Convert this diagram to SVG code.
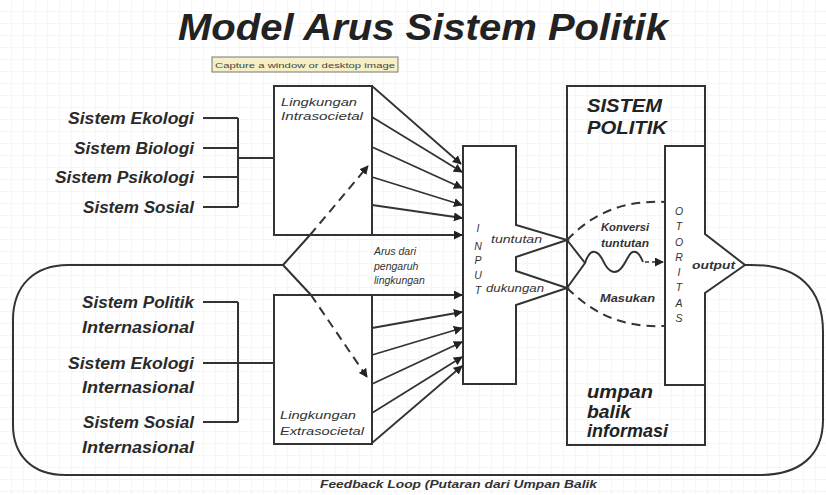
<svg xmlns="http://www.w3.org/2000/svg" width="826" height="495" viewBox="0 0 826 495">
<defs>
<pattern id="grid" width="12" height="12" patternUnits="userSpaceOnUse">
<path d="M12 0V12M0 12H12" fill="none" stroke="#dcdcdc" stroke-width="0.8" stroke-dasharray="2 1"/>
</pattern>
<marker id="ah" viewBox="0 0 10 10" refX="9" refY="5" markerWidth="9" markerHeight="9" markerUnits="userSpaceOnUse" orient="auto">
<path d="M0 0L10 5L0 10z" fill="#222"/>
</marker>
<style>
.ln{fill:none;stroke:#333;stroke-width:2}
.ar{fill:none;stroke:#333;stroke-width:1.8;marker-end:url(#ah)}
.dsh{fill:none;stroke:#333;stroke-width:2;stroke-dasharray:9 6}
.box{fill:#fff;stroke:#333;stroke-width:2}
.big{font-family:"Liberation Sans",Arial,sans-serif;font-weight:bold;font-style:italic;fill:#222}
.lab{font-family:"Liberation Sans",Arial,sans-serif;font-weight:bold;font-style:italic;font-size:16px;fill:#2a2a2a;text-anchor:end}
.sm{font-family:"Liberation Sans",Arial,sans-serif;font-style:italic;font-size:10.5px;fill:#333}
.let{font-family:"Liberation Sans",Arial,sans-serif;font-style:italic;font-size:10.5px;fill:#333;text-anchor:middle}
</style>
</defs>
<rect width="826" height="495" fill="#fff"/>
<rect width="826" height="495" fill="url(#grid)"/>

<g id="title"><text class="big" x="423" y="40" font-size="36" text-anchor="middle" textLength="490" lengthAdjust="spacingAndGlyphs">Model Arus Sistem Politik</text></g>

<g id="tooltip">
<rect x="212" y="57" width="186" height="15" fill="#f6efc4" stroke="#777" stroke-width="1"/>
<text x="215" y="68" font-family="Liberation Sans, Arial, sans-serif" font-size="8" fill="#444" textLength="180" lengthAdjust="spacingAndGlyphs">Capture a window or desktop image</text>
</g>

<g id="labels-left">
<text class="lab" x="194" y="124" textLength="126" lengthAdjust="spacingAndGlyphs">Sistem Ekologi</text>
<text class="lab" x="194" y="154" textLength="120" lengthAdjust="spacingAndGlyphs">Sistem Biologi</text>
<text class="lab" x="194" y="183" textLength="139" lengthAdjust="spacingAndGlyphs">Sistem Psikologi</text>
<text class="lab" x="194" y="213" textLength="111" lengthAdjust="spacingAndGlyphs">Sistem Sosial</text>
<text class="lab" x="194" y="308" textLength="112" lengthAdjust="spacingAndGlyphs">Sistem Politik</text>
<text class="lab" x="194" y="333" textLength="112" lengthAdjust="spacingAndGlyphs">Internasional</text>
<text class="lab" x="194" y="369" textLength="126" lengthAdjust="spacingAndGlyphs">Sistem Ekologi</text>
<text class="lab" x="194" y="393" textLength="112" lengthAdjust="spacingAndGlyphs">Internasional</text>
<text class="lab" x="194" y="428" textLength="111" lengthAdjust="spacingAndGlyphs">Sistem Sosial</text>
<text class="lab" x="194" y="453" textLength="112" lengthAdjust="spacingAndGlyphs">Internasional</text>
</g>

<g id="intrasocietal">
<rect class="box" x="274" y="86" width="98" height="149"/>
<text class="sm" x="281" y="106" textLength="76" lengthAdjust="spacingAndGlyphs">Lingkungan</text>
<text class="sm" x="281" y="120" textLength="82" lengthAdjust="spacingAndGlyphs">Intrasocietal</text>
</g>

<g id="extrasocietal">
<rect class="box" x="274" y="295" width="98" height="149"/>
<text class="sm" x="280" y="419" textLength="76" lengthAdjust="spacingAndGlyphs">Lingkungan</text>
<text class="sm" x="280" y="435" textLength="84" lengthAdjust="spacingAndGlyphs">Extrasocietal</text>
</g>

<g id="arus">
<text class="sm" x="374" y="255">Arus dari</text>
<text class="sm" x="374" y="270">pengaruh</text>
<text class="sm" x="374" y="284">lingkungan</text>
</g>

<g id="input">
<path class="box" d="M463 146H516V225L567 240L516 257V271L567 288L516 305V384H463Z"/>
<text class="let" x="478" y="232">I</text>
<text class="let" x="478" y="250">N</text>
<text class="let" x="478" y="264">P</text>
<text class="let" x="478" y="279">U</text>
<text class="let" x="478" y="294">T</text>
<text class="sm" x="491" y="243" font-size="9.5" textLength="51" lengthAdjust="spacingAndGlyphs">tuntutan</text>
<text class="sm" x="486" y="292" font-size="9.5" textLength="58" lengthAdjust="spacingAndGlyphs">dukungan</text>
</g>

<g id="sistem-politik">
<path class="ln" d="M705 234V86H567V445H705V293"/>
<text class="big" x="587" y="112" font-size="19" textLength="75" lengthAdjust="spacingAndGlyphs">SISTEM</text>
<text class="big" x="587" y="134" font-size="19" textLength="80" lengthAdjust="spacingAndGlyphs">POLITIK</text>
<text class="big" x="587" y="398" font-size="19" textLength="66" lengthAdjust="spacingAndGlyphs">umpan</text>
<text class="big" x="587" y="418" font-size="19" textLength="44" lengthAdjust="spacingAndGlyphs">balik</text>
<text class="big" x="587" y="437" font-size="19" textLength="81" lengthAdjust="spacingAndGlyphs">informasi</text>
<text class="sm" x="601" y="231" font-weight="bold" font-size="11" textLength="48" lengthAdjust="spacingAndGlyphs">Konversi</text>
<text class="sm" x="601" y="247" font-weight="bold" font-size="11" textLength="48" lengthAdjust="spacingAndGlyphs">tuntutan</text>
<text class="sm" x="600" y="302" font-weight="bold" font-size="11" textLength="55" lengthAdjust="spacingAndGlyphs">Masukan</text>
</g>

<g id="otoritas">
<path class="box" d="M665 146H705V234L745 265L705 293V385H665Z"/>
<text class="let" x="679" y="215">O</text>
<text class="let" x="679" y="230">T</text>
<text class="let" x="679" y="246">O</text>
<text class="let" x="679" y="261">R</text>
<text class="let" x="679" y="276">I</text>
<text class="let" x="679" y="291">T</text>
<text class="let" x="679" y="307">A</text>
<text class="let" x="679" y="322">S</text>
<text class="sm" x="692" y="269" font-weight="bold" font-size="10.5" textLength="43" lengthAdjust="spacingAndGlyphs">output</text>
</g>

<g id="feedback-label">
<text class="sm" x="320" y="488" font-weight="bold" font-size="10.5" textLength="277" lengthAdjust="spacingAndGlyphs">Feedback Loop (Putaran dari Umpan Balik</text>
</g>

<g id="connectors">
<path class="ln" d="M203 118H238M203 148H238M203 177H238M203 207H238M238 118V207M238 158H274"/>
<path class="ln" d="M203 302H238M203 363H274M203 422H238M238 302V422"/>
<path class="ln" d="M745 265C800 263 823 290 823 332L823 420C823 455 800 475 760 475L65 475C32 475 13 455 13 425L13 320C13 285 35 265 68 265L283 265"/>
<path class="ln" d="M283 265L310 235M283 265L311 295"/>
<path class="dsh" d="M310 235L368 166" marker-end="url(#ah)"/>
<path class="dsh" d="M311 295L367 377" marker-end="url(#ah)"/>
<path class="ar" d="M372 86L461 164"/>
<path class="ar" d="M372 117L462 172"/>
<path class="ar" d="M372 147L462 188"/>
<path class="ar" d="M372 177L462 205"/>
<path class="ar" d="M372 205L462 218"/>
<path class="ar" d="M372 235L462 235"/>
<path class="ar" d="M372 295L462 295"/>
<path class="ar" d="M372 328L462 312"/>
<path class="ar" d="M372 355L462 328"/>
<path class="ar" d="M372 384L462 342"/>
<path class="ar" d="M372 413L462 357"/>
<path class="ar" d="M372 443L462 366"/>
<path class="ln" stroke-width="1.6" d="M567 240L585 263L567 288"/>
<path class="dsh" d="M567 240C592 214 622 200 665 202"/>
<path class="dsh" d="M567 288C592 312 620 328 665 326"/>
<path class="ln" stroke-width="1.8" d="M585 263C588 254 591 251 595 252C601 253 603 262 606 266C610 272 614 273 618 271C624 268 627 257 631 253C635 250 639 252 643 262"/>
<path fill="none" stroke="#333" stroke-width="1.6" stroke-dasharray="4 3" d="M645 262L663 262" marker-end="url(#ah)"/>
</g>
</svg>
